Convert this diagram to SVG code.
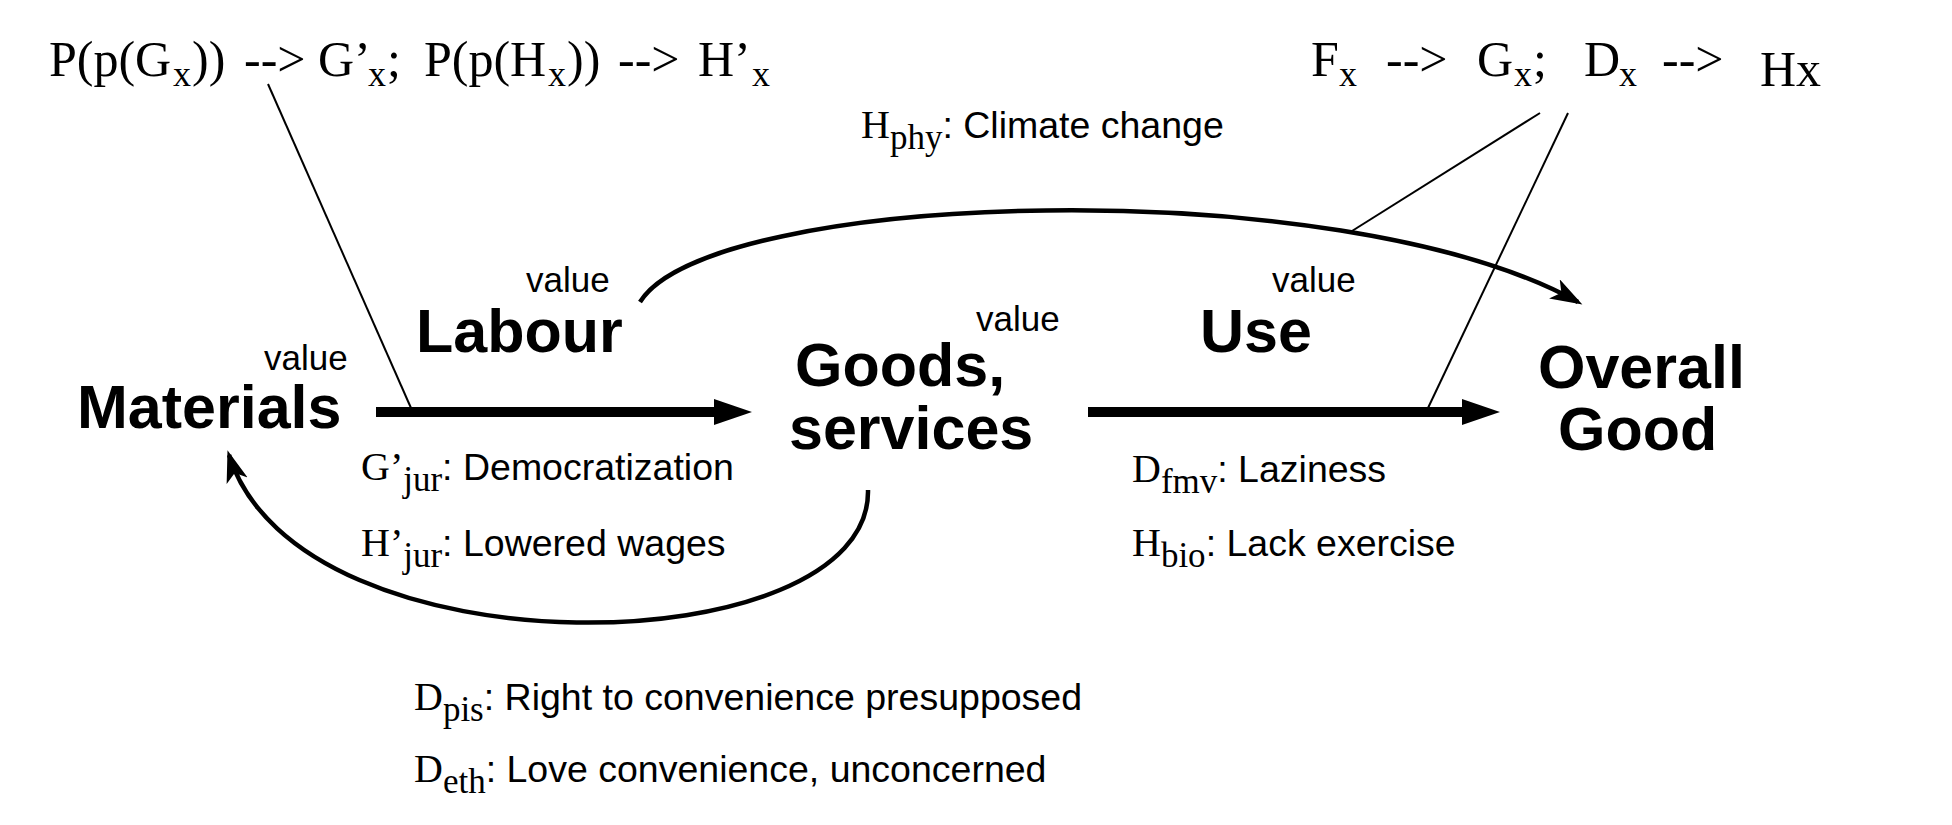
<svg xmlns="http://www.w3.org/2000/svg" width="1952" height="825" viewBox="0 0 1952 825">
<style>
.serif{font-family:"Liberation Serif",serif;font-size:50px;fill:#000}
.sub{font-size:36px}
.ss{font-family:"Liberation Serif",serif;font-size:40px}
.ssub{font-family:"Liberation Serif",serif;font-size:35px}
.lbl{font-family:"Liberation Sans",Arial,sans-serif;font-size:37.5px;fill:#000}
.big{font-family:"Liberation Sans",Arial,sans-serif;font-size:61px;font-weight:bold;fill:#000}
.val{font-family:"Liberation Sans",Arial,sans-serif;font-size:35px;fill:#000}
.thick{stroke:#000;stroke-width:10;fill:none}
.curve{stroke:#000;stroke-width:4.5;fill:none}
.thin{stroke:#000;stroke-width:2;fill:none}
</style>
<defs>
<marker id="bigHead" markerUnits="userSpaceOnUse" markerWidth="40" markerHeight="30" refX="0" refY="13" orient="auto">
<path d="M0,0 L38,13 L0,26 z" fill="#000"/>
</marker>
<marker id="curveHead" markerUnits="userSpaceOnUse" markerWidth="36" markerHeight="26" refX="27" refY="11" orient="auto">
<path d="M0,0 L32,11 L0,22 L8,11 z" fill="#000"/>
</marker>
</defs>

<g id="formula-left">
<text class="serif" y="76"><tspan x="49">P(p(G</tspan><tspan class="sub" x="173" dy="10">x</tspan><tspan x="192" dy="-10">))</tspan><tspan x="244">--&gt;</tspan><tspan x="318">G’</tspan><tspan class="sub" x="368" dy="10">x</tspan><tspan x="387" dy="-10">;</tspan><tspan x="424">P(p(H</tspan><tspan class="sub" x="548" dy="10">x</tspan><tspan x="567" dy="-10">))</tspan><tspan x="618">--&gt;</tspan><tspan x="698">H’</tspan><tspan class="sub" x="752" dy="10">x</tspan></text>
</g>
<g id="formula-right">
<text class="serif" y="76"><tspan x="1311">F</tspan><tspan class="sub" x="1339" dy="10">x</tspan><tspan x="1386" dy="-10">--&gt;</tspan><tspan x="1477">G</tspan><tspan class="sub" x="1514" dy="10">x</tspan><tspan x="1533" dy="-10">;</tspan><tspan x="1584">D</tspan><tspan class="sub" x="1619" dy="10">x</tspan><tspan x="1662" dy="-10">--&gt;</tspan><tspan x="1760" dy="10">Hx</tspan></text>
</g>
<g id="label-hphy">
<text y="138"><tspan class="ss" x="861">H</tspan><tspan class="ssub" dy="11">phy</tspan><tspan class="lbl" dy="-11">: Climate change</tspan></text>
</g>

<g id="node-materials">
<text class="val" x="264" y="370">value</text>
<text class="big" x="77" y="428">Materials</text>
</g>
<g id="node-labour">
<text class="val" x="526" y="292">value</text>
<text class="big" x="416" y="352">Labour</text>
</g>
<g id="node-goods">
<text class="val" x="976" y="331">value</text>
<text class="big" x="795" y="386">Goods,</text>
<text class="big" x="789" y="449">services</text>
</g>
<g id="node-use">
<text class="val" x="1272" y="292">value</text>
<text class="big" x="1200" y="352">Use</text>
</g>
<g id="node-overall">
<text class="big" x="1538" y="388">Overall</text>
<text class="big" x="1558" y="450">Good</text>
</g>

<g id="labels">
<text y="480"><tspan class="ss" x="361">G’</tspan><tspan class="ssub" dy="11">jur</tspan><tspan class="lbl" dy="-11">: Democratization</tspan></text>
<text y="556"><tspan class="ss" x="361">H’</tspan><tspan class="ssub" dy="11">jur</tspan><tspan class="lbl" dy="-11">: Lowered wages</tspan></text>
<text y="482"><tspan class="ss" x="1132">D</tspan><tspan class="ssub" dy="11">fmv</tspan><tspan class="lbl" dy="-11">: Laziness</tspan></text>
<text y="556"><tspan class="ss" x="1132">H</tspan><tspan class="ssub" dy="11">bio</tspan><tspan class="lbl" dy="-11">: Lack exercise</tspan></text>
<text y="710"><tspan class="ss" x="414">D</tspan><tspan class="ssub" dy="11">pis</tspan><tspan class="lbl" dy="-11">: Right to convenience presupposed</tspan></text>
<text y="782"><tspan class="ss" x="414">D</tspan><tspan class="ssub" dy="11">eth</tspan><tspan class="lbl" dy="-11">: Love convenience, unconcerned</tspan></text>
</g>

<g id="connectors">
<line class="thick" x1="376" y1="412" x2="714" y2="412" marker-end="url(#bigHead)"/>
<line class="thick" x1="1088" y1="412" x2="1462" y2="412" marker-end="url(#bigHead)"/>
<path class="curve" d="M640 302 C710 190, 1340 170, 1578 302" marker-end="url(#curveHead)"/>
<path class="curve" d="M868 490 C872 665, 300 680, 229 455" marker-end="url(#curveHead)"/>
<line class="thin" x1="268" y1="84" x2="411" y2="408"/>
<line class="thin" x1="1540" y1="113" x2="1352" y2="231"/>
<line class="thin" x1="1568" y1="113" x2="1428" y2="408"/>
</g>
</svg>
